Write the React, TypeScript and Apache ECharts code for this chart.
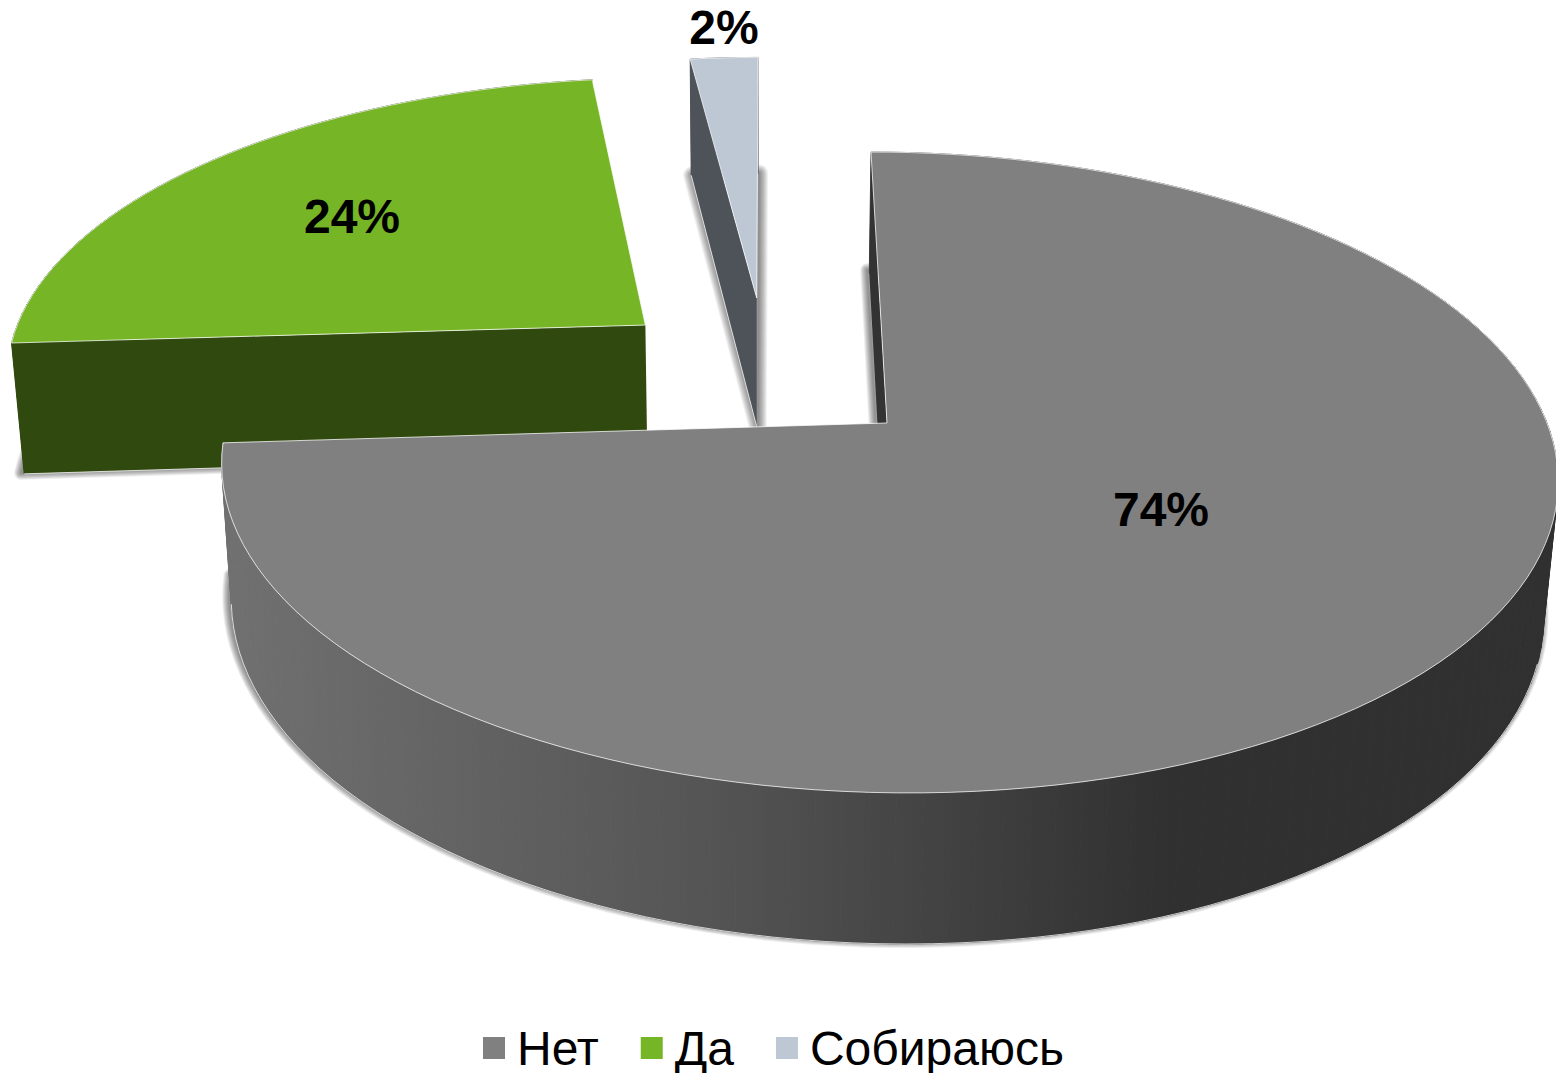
import React, { useEffect, useRef } from "react";
import * as echarts from "echarts";

const categories = ["Нет", "Да", "Собираюсь"];
const values = [74, 24, 2];
const topColors = ["#808080", "#76b525", "#bdc8d4"];
const sideColors = ["#333333", "#30490f", "#4e5359"];
const explodeOffsets: [number, number][] = [[0, 0], [-0.3755, 0.329], [-0.1985, 0.426]];
const labelPositions: [number, number][] = [[1161, 509], [352, 216], [724, 27]];
const shadowSpread = [7, 7, 9];
const shadowShift: [number, number][] = [[-2, -3], [-3, -1], [1, 0]];
const rimRange: [number, number] = [108, 262];
const drawOrder = [1, 2, 0];

// Perspective camera fitted to the picture: pie plane (u, v), depth z (0 top, 1 bottom).
const cam = { a: 660, b: 118.5, c: 887, d: 0, e: -247.5, f: 423, g: 0.1544, k: 0, m: 13.6, p: 144.7, n: 0.01795 };
function project(u: number, v: number, z: number): [number, number] {
  const w = 1 + cam.k * u + cam.g * v + cam.n * z;
  return [(cam.a * u + cam.b * v + cam.c + cam.m * z) / w, (cam.d * u + cam.e * v + cam.f + cam.p * z) / w];
}

const total = values.reduce((s, x) => s + x, 0);
function sliceAngles(i: number): [number, number] {
  let start = 0;
  for (let j = 0; j < i; j++) start += values[j];
  return [(start / total) * 360, ((start + values[i]) / total) * 360];
}

function arc(i: number, z: number, from?: number, to?: number): [number, number][] {
  const [s0, e0] = sliceAngles(i);
  const s = from ?? s0;
  const e = to ?? e0;
  const [ox, oy] = explodeOffsets[i];
  const n = Math.max(4, Math.ceil((e - s) / 2));
  const pts: [number, number][] = [];
  for (let t = 0; t <= n; t++) {
    const th = ((s + ((e - s) * t) / n) * Math.PI) / 180;
    pts.push(project(ox + Math.sin(th), oy + Math.cos(th), z));
  }
  return pts;
}

function renderSlice(i: number) {
  const [ox, oy] = explodeOffsets[i];
  const apexTop = project(ox, oy, 0);
  const apexBottom = project(ox, oy, 1);
  const top = arc(i, 0);
  const bottom = arc(i, 1);
  const wallFill: any =
    i === 0
      ? new echarts.graphic.LinearGradient(
          232, 0, 1170, 0,
          [
            { offset: 0, color: "#707070" },
            { offset: 0.5, color: "#555555" },
            { offset: 1, color: "#303030" },
          ],
          true
        )
      : sideColors[i];
  const edge = { stroke: "rgba(255,255,255,0.75)", lineWidth: 1 };
  const poly = (points: [number, number][], style: any) => ({ type: "polygon", silent: true, shape: { points }, style });
  const line = (points: [number, number][]) => ({
    type: "polyline",
    silent: true,
    shape: { points },
    style: { fill: null, ...edge },
  });
  const [sx, sy] = shadowShift[i];
  const children: any[] = [];
  const layers = shadowSpread[i];
  const layerAlpha = 1 - Math.pow(1 - 0.42, 1 / layers);
  for (let k = layers; k >= 1; k--) {
    children.push({
      ...poly([apexBottom, ...bottom], {
        fill: `rgba(0,0,0,0)`,
        stroke: `rgba(0,0,0,${layerAlpha})`,
        lineWidth: k * 2,
        lineJoin: "round",
      }),
      x: sx,
      y: sy,
    });
  }
  for (let t = 0; t < top.length - 1; t++) {
    children.push(poly([top[t], top[t + 1], bottom[t + 1], bottom[t]], { fill: wallFill, stroke: wallFill, lineWidth: 1 }));
  }
  if (i === 0) children.push(line(arc(0, 1, rimRange[0], rimRange[1])));
  children.push(poly([apexTop, top[0], bottom[0], apexBottom], { fill: sideColors[i] }));
  if (i !== 0) children.push(line([apexBottom, bottom[0]]));
  children.push(poly([apexTop, ...top], { fill: topColors[i], ...edge }));
  children.push({
    type: "text",
    silent: true,
    style: {
      text: `${Math.round((values[i] / total) * 100)}%`,
      x: labelPositions[i][0],
      y: labelPositions[i][1],
      fill: "#000000",
      fontFamily: "Liberation Sans",
      fontWeight: "bold",
      fontSize: 48,
      align: "center",
      verticalAlign: "middle",
    },
  });
  return { type: "group", children };
}

export default function App() {
  const ref = useRef<HTMLDivElement>(null);
  useEffect(() => {
    document.body.style.margin = "0";
    const chart = echarts.init(ref.current!, undefined, { renderer: "svg" });
    chart.setOption({
      animation: false,
      backgroundColor: "#ffffff",
      legend: {
        data: categories,
        left: 478,
        top: 1019,
        icon: "rect",
        itemWidth: 22,
        itemHeight: 22,
        itemGap: 42,
        selectedMode: false,
        textStyle: { fontFamily: "Liberation Sans", fontSize: 48, color: "#000000", padding: [0, 0, 0, 7] },
      },
      series: drawOrder.map((i) => ({
        type: "custom",
        name: categories[i],
        coordinateSystem: "none",
        silent: true,
        itemStyle: { color: topColors[i] },
        data: [values[i]],
        renderItem: () => renderSlice(i),
      })),
    });
    return () => chart.dispose();
  }, []);
  return <div ref={ref} style={{ width: 1556, height: 1073, overflow: "hidden" }} />;
}
